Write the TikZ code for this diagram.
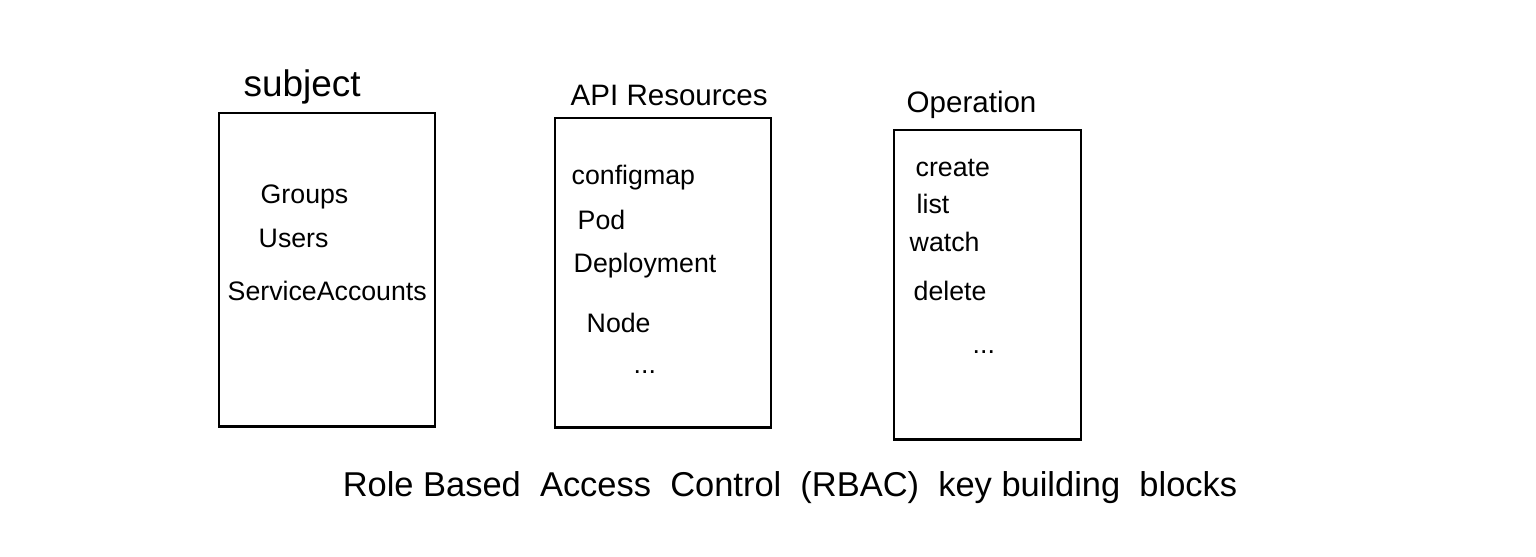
\documentclass[tikz,border=0pt]{standalone}
\usepackage{fontspec}
\setmainfont{Liberation Sans}
\usetikzlibrary{positioning}

\begin{document}
\begin{tikzpicture}[x=0.01cm, y=-0.01cm,
  every node/.style={font=\fontsize{7.6}{9}\selectfont},
  bx/.style={draw, line width=0.8pt, inner sep=0pt},
  itm/.style={anchor=west, inner sep=0pt},
  ttl/.style={anchor=west, inner sep=0pt, font=\fontsize{8.4}{10}\selectfont}]
\useasboundingbox (0,0) rectangle (1536,556);
% Subject
\node[bx, minimum width=2.16cm, minimum height=3.13cm] (subj) at (327,269.5) {};
\node[ttl, font=\fontsize{10.5}{12}\selectfont] (subjttl) at (243,87) {subject};
\node[itm] (groups) at (260,197) {Groups};
\node[itm] (users) at (258,238) {Users};
\node[itm] (sa) at (227,291) {ServiceAccounts};
% API Resources
\node[bx, minimum width=2.16cm, minimum height=3.09cm] (res) at (663,272.5) {};
\node[ttl] (resttl) at (570,95) {API Resources};
\node[itm] (cm) at (571,178) {configmap};
\node[itm] (pod) at (577,220) {Pod};
\node[itm] (deploy) at (573,266) {Deployment};
\node[itm] (nd) at (586,323) {Node};
\node[itm] (resmore) at (633,372) {...};
% Operation
\node[bx, minimum width=1.87cm, minimum height=3.09cm] (op) at (987.5,284.5) {};
\node[ttl] (opttl) at (906,105) {Operation};
\node[itm] (create) at (915,168) {create};
\node[itm] (lst) at (916,204) {list};
\node[itm] (watch) at (909,242) {watch};
\node[itm] (del) at (913,291) {delete};
\node[itm] (opmore) at (972,352) {...};
% Caption
\node[font=\fontsize{9.8}{12}\selectfont] (cap) at (790,488) {Role Based \ Access \ Control \ (RBAC) \ key building \ blocks};
\end{tikzpicture}
\end{document}
